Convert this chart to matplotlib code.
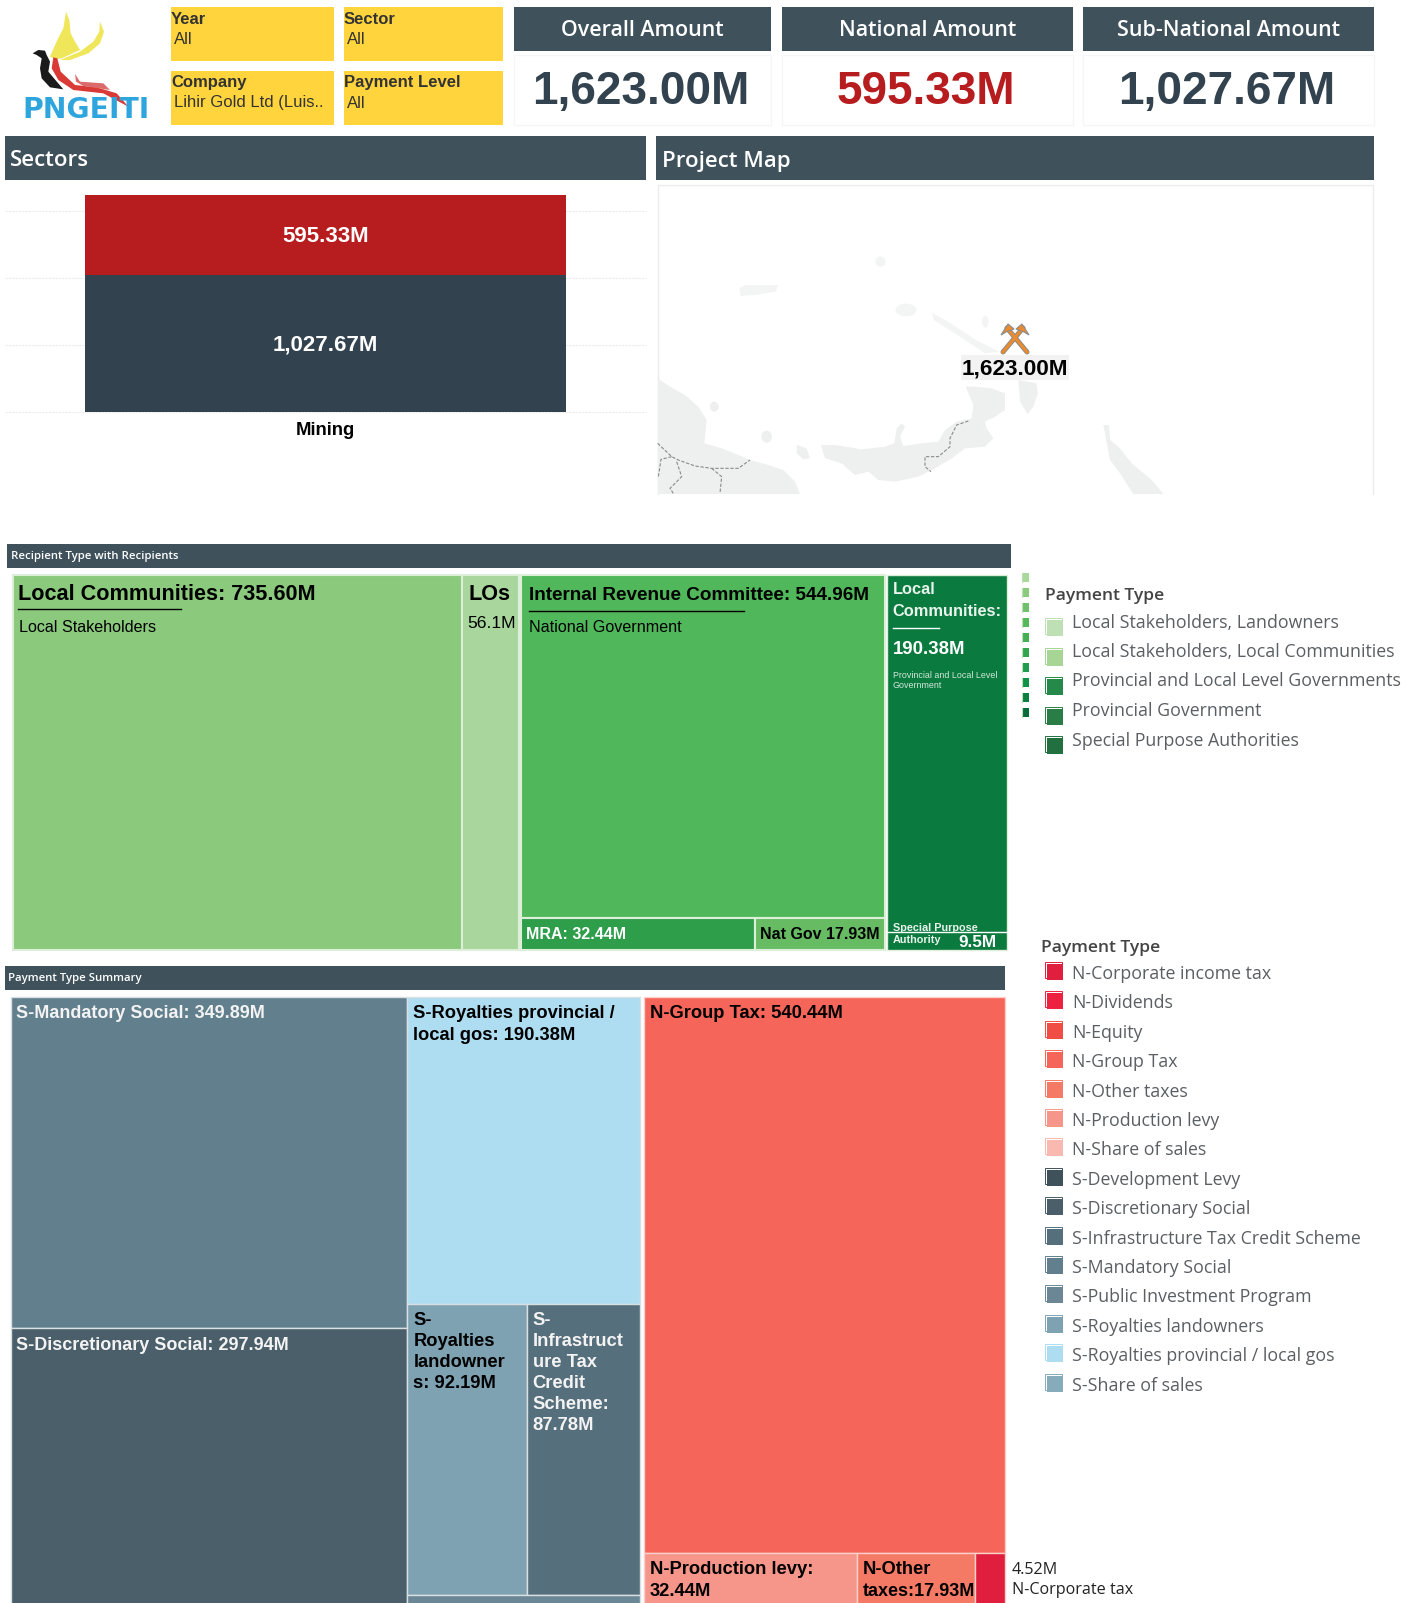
#!/usr/bin/env python3
# -*- coding: utf-8 -*-

import matplotlib
matplotlib.use("Agg")
import matplotlib.pyplot as plt
from matplotlib.patches import Rectangle, Polygon, Ellipse

W, H = 1413, 1603

# ---------- DATA ----------
FILTERS = [("Year", "All"), ("Sector", "All"),
           ("Company", "Lihir Gold Ltd (Luis.."), ("Payment Level", "All")]
KPI_NAMES = ["Overall Amount", "National Amount", "Sub-National Amount"]
KPI_VALUES = [1623.00, 595.33, 1027.67]

SECTOR_CATS = ["Mining"]
SECTOR_NATIONAL = [595.33]
SECTOR_SUBNATIONAL = [1027.67]

# recipients treemap: the LOs cell is sized 92.19 though it is labelled 56.1M
REC_LOCAL = [735.60, 92.19]
REC_NATIONAL_TOP = 544.96
REC_NATIONAL_ROW = [32.44, 17.93]
REC_PROVINCIAL = [190.38, 9.50]

# payment treemap
PAY_SOCIAL = [349.89, 297.94]
PAY_ROYALTY_TOP = 190.38
PAY_ROYALTY_ROW = [92.19, 87.78]
PAY_PUBLIC_INV = 9.49
PAY_GROUP_TAX = 540.44
PAY_NAT_ROW = [32.44, 17.93, 4.52]

LEGEND1_LABELS = ["Local Stakeholders, Landowners", "Local Stakeholders, Local Communities",
                  "Provincial and Local Level Governments", "Provincial Government",
                  "Special Purpose Authorities"]
LEGEND1_COLORS = ["#BFE0B5", "#A6D596", "#25894A", "#2A7D46", "#22703F"]
RAMP_COLORS = ["#A9D79C", "#8BCB7E", "#6FC06B", "#55B85B", "#45AF54",
               "#32A64F", "#1F9C4D", "#0F9148", "#0A7F41", "#076C39"]
LEGEND2_LABELS = ["N-Corporate income tax", "N-Dividends", "N-Equity", "N-Group Tax",
                  "N-Other taxes", "N-Production levy", "N-Share of sales",
                  "S-Development Levy", "S-Discretionary Social",
                  "S-Infrastructure Tax Credit Scheme", "S-Mandatory Social",
                  "S-Public Investment Program", "S-Royalties landowners",
                  "S-Royalties provincial / local gos", "S-Share of sales"]
LEGEND2_COLORS = ["#DF1F3D", "#EC2240", "#F04E45", "#F5655A", "#F47A65", "#F6968A", "#F9B8B0",
                  "#3F525C", "#4A5F6A", "#566F7C", "#617F8D", "#6B8795", "#7FA2B3",
                  "#AEDDF2", "#86ABBB"]

# ---------- THEME ----------
HEADER = "#3F525C"
YELLOW = "#FFD43D"
RED = "#B71C1F"
NAVY = "#32424E"
LAND = "#EEEFEF"
SANS = "Liberation Sans"
BOOK = "Open Sans"
LEGEND_TEXT = "#5A5F63"


def box(ax, x0, y0, x1, y1, color, edge="none", lw=0, z=2):
    ax.add_patch(Rectangle((x0, y0), x1 - x0, y1 - y0, facecolor=color,
                           edgecolor=edge, linewidth=lw, zorder=z))


def put(ax, x, y, s, size, color="black", weight="normal", family=SANS, ha="left", z=6):
    ax.text(x, y, s, fontsize=size, color=color, fontweight=weight, family=family,
            ha=ha, va="center", zorder=z)


def money(v):
    return f"{v:,.2f}M"


def draw_logo(ax):
    def zp(pts):
        return [(x / 3.0, y / 3.0) for x, y in pts]
    yellow = [[(198, 35), (208, 60), (212, 100), (225, 125), (240, 150), (185, 175), (165, 178), (150, 170), (172, 120), (190, 85)],
              [(300, 65), (312, 95), (300, 130), (265, 160), (210, 180), (180, 180), (240, 155), (280, 125), (298, 95)]]
    for p in yellow:
        ax.add_patch(Polygon(zp(p), facecolor="#EFE65A", edgecolor="none", zorder=3))
    black = [(98, 160), (115, 150), (135, 152), (140, 165), (150, 185), (145, 215), (190, 268), (150, 262), (125, 235), (120, 205), (125, 175), (110, 165)]
    ax.add_patch(Polygon(zp(black), facecolor="#1A1A1A", edgecolor="none", zorder=3))
    red = [(160, 172), (172, 175), (182, 215), (225, 255), (290, 262), (350, 280), (385, 320), (310, 280), (220, 270), (175, 240), (155, 205)]
    ax.add_patch(Polygon(zp(red), facecolor="#D93A35", edgecolor="none", zorder=4))
    tail = [(225, 222), (240, 245), (310, 250), (330, 270), (250, 258), (228, 245)]
    ax.add_patch(Polygon(zp(tail), facecolor="#DB6A6A", edgecolor="none", zorder=4))
    put(ax, 22, 110, "PNGEITI", 20.3, color="#2FA5DE", weight="bold", family="DejaVu Sans")


def draw_map(ax):
    def low(pts):
        return [(655 + x / 3.0, 360 + y / 3.0) for x, y in pts]

    def up(pts):
        return [(650 + x / 2.148, 180 + y / 3.0) for x, y in pts]

    box(ax, 657.5, 185, 1373, 494, "white", z=1)
    ax.plot([657.5, 657.5, 1373, 1373], [494, 185, 185, 494], color="#EBEBEB", lw=1, zorder=1.2)
    land = [
        [(8, 55), (45, 80), (90, 105), (130, 140), (155, 180), (148, 250), (200, 265), (250, 285), (285, 300), (340, 315),
         (385, 330), (420, 365), (435, 402), (8, 402)],
        [(498, 255), (540, 255), (620, 268), (690, 260), (718, 250), (725, 205), (740, 190), (750, 200), (735, 230), (745, 258),
         (800, 250), (850, 245), (870, 210), (905, 185), (950, 175), (955, 135), (932, 80), (960, 80), (1010, 85), (1050, 100),
         (1050, 150), (1020, 170), (990, 185), (995, 205), (1015, 235), (990, 260), (930, 265), (890, 295), (840, 325), (790, 350),
         (720, 365), (670, 360), (640, 335), (600, 345), (560, 310), (510, 295)],
        [(1090, 60), (1145, 70), (1148, 100), (1135, 140), (1118, 162), (1095, 125)],
        [(1345, 195), (1362, 195), (1365, 240), (1395, 265), (1430, 310), (1490, 360), (1525, 402), (1435, 402), (1395, 340), (1365, 300)],
        [(425, 255), (455, 265), (465, 295), (445, 298), (425, 280)],
    ]
    for p in land:
        ax.add_patch(Polygon(low(p), facecolor=LAND, edgecolor="none", zorder=1.5))
    for cx, cy, w, h in [(178, 140, 26, 30), (335, 230, 32, 36)]:
        (px, py), = low([(cx, cy)])
        ax.add_patch(Ellipse((px, py), w / 3.0, h / 3.0, facecolor=LAND, edgecolor="none", zorder=1.5))
    ax.add_patch(Polygon(up([(192, 325), (205, 315), (275, 315), (270, 335), (225, 345), (195, 348)]),
                         facecolor="#F3F4F4", edgecolor="none", zorder=1.5))
    ax.add_patch(Polygon(up([(605, 398), (640, 425), (700, 480), (750, 515), (720, 520), (660, 465), (610, 420)]),
                         facecolor="#F3F4F4", edgecolor="none", zorder=1.5))
    for cx, cy, w, h in [(495, 245, 22, 30), (550, 390, 45, 38), (720, 425, 14, 35)]:
        (px, py), = up([(cx, cy)])
        ax.add_patch(Ellipse((px, py), w / 2.148, h / 3.0, facecolor="#F3F4F4", edgecolor="none", zorder=1.5))
    borders = [[(940, 183), (905, 195), (885, 235), (885, 260), (850, 290), (810, 290), (810, 320), (828, 335)],
               [(8, 250), (50, 290), (70, 300), (120, 318), (170, 325), (250, 325), (285, 300)],
               [(50, 290), (18, 298), (10, 350)],
               [(65, 305), (80, 350), (45, 385), (55, 400)],
               [(170, 325), (200, 350), (195, 400)]]
    for b in borders:
        pts = low(b)
        ax.plot([p[0] for p in pts], [p[1] for p in pts], color="#8A8A8A", lw=0.8, ls=(0, (3, 1.5)), zorder=1.7)
    # crossed hammers
    cx, cy = 1015, 339
    for sgn in (-1, 1):
        ax.plot([cx - sgn * 12, cx + sgn * 8], [cy + 13, cy - 11], color="#8C8C8C", lw=3.6, zorder=3, solid_capstyle="round")
        ax.plot([cx - sgn * 12, cx + sgn * 8], [cy + 13, cy - 11], color="#E98B2E", lw=2.2, zorder=3.1)
        ax.add_patch(Polygon([(cx + sgn * 1, cy - 10), (cx + sgn * 7, cy - 15), (cx + sgn * 14, cy - 4), (cx + sgn * 9, cy - 7)],
                             facecolor="#E98B2E", edgecolor="#8C8C8C", linewidth=0.8, zorder=3.2))
    box(ax, 960.5, 355, 1069, 380, "#F2F2F2", z=3)
    put(ax, 1014.5, 368.5, money(KPI_VALUES[0]), 16.2, weight="bold", ha="center")


def draw_sectors(fig):
    px_per_m = (412 - 195) / (SECTOR_NATIONAL[0] + SECTOR_SUBNATIONAL[0])
    top, bot, left, right = 185, 412, 5, 646
    ax = fig.add_axes([left / W, 1 - bot / H, (right - left) / W, (bot - top) / H], zorder=1)
    ax.bar(SECTOR_CATS, SECTOR_SUBNATIONAL, width=0.75, color=NAVY, zorder=3)
    ax.bar(SECTOR_CATS, SECTOR_NATIONAL, bottom=SECTOR_SUBNATIONAL, width=0.75, color=RED, zorder=3)
    ax.set_xlim(-0.5, 0.5)
    ax.set_ylim(0, (bot - top) / px_per_m)
    ax.set_yticks([0, 500, 1000, 1500])
    ax.grid(axis="y", color="#EBEBEB", lw=0.8, ls=(0, (2, 1)), zorder=0)
    for g in ax.get_ygridlines():
        g.set_clip_on(False)
    ax.tick_params(length=0, labelleft=False, pad=7)
    for t in ax.get_xticklabels():
        t.set_fontsize(13.3)
        t.set_fontweight("bold")
        t.set_family(SANS)
    for s in ax.spines.values():
        s.set_visible(False)
    for i, (n, s) in enumerate(zip(SECTOR_NATIONAL, SECTOR_SUBNATIONAL)):
        for v, mid in ((n, s + n / 2), (s, s / 2)):
            ax.annotate(money(v), (i, mid), xytext=(0, -1), textcoords="offset points", color="white",
                        fontsize=16, fontweight="bold", family=SANS, ha="center", va="center", zorder=5)


def draw_recipient_treemap(ax):
    x0, x1, y0, y1 = 13, 1007, 575, 950
    local, nat, prov = sum(REC_LOCAL), REC_NATIONAL_TOP + sum(REC_NATIONAL_ROW), sum(REC_PROVINCIAL)
    total = local + nat + prov
    sx = (x1 - x0) / total
    h = y1 - y0
    ox = x0
    edge = "#DDEFD8"

    # local stakeholders
    xm = ox + local * sx * REC_LOCAL[0] / local - 1.5
    xe = ox + local * sx - 1
    box(ax, ox, y0, xm, y1, "#8BC97D", edge=edge, lw=1.5)
    box(ax, xm, y0, xe, y1, "#A8D69C", edge=edge, lw=1.5)
    put(ax, ox + 5, y0 + 19, f"Local Communities: {REC_LOCAL[0]:.2f}M", 15.6, weight="bold")
    ax.plot([ox + 5, ox + 168], [y0 + 34, y0 + 34], color="black", lw=1, zorder=6)
    put(ax, ox + 6, y0 + 52, "Local Stakeholders", 11.65)
    put(ax, xm + 6, y0 + 20, "LOs", 15.6, weight="bold")
    put(ax, xm + 5, y0 + 49, "56.1M", 12.6)

    # national government
    ox = xe + 2
    xe = ox + nat * sx - 1
    row_h = h * sum(REC_NATIONAL_ROW) / nat
    ym = y1 - row_h
    box(ax, ox, y0, xe, ym, "#50B85A", edge=edge, lw=1.5)
    xm = ox + (xe - ox) * REC_NATIONAL_ROW[0] / sum(REC_NATIONAL_ROW)
    box(ax, ox, ym, xm, y1, "#2E9E4B", edge=edge, lw=1.5)
    box(ax, xm, ym, xe, y1, "#66BB63", edge=edge, lw=1.5)
    put(ax, ox + 8, y0 + 20, f"Internal Revenue Committee: {REC_NATIONAL_TOP:.2f}M", 13.6, weight="bold")
    ax.plot([ox + 8, ox + 223], [y0 + 36, y0 + 36], color="black", lw=1, zorder=6)
    put(ax, ox + 8, y0 + 53, "National Government", 11.65)
    put(ax, ox + 5, ym + 16, f"MRA: {REC_NATIONAL_ROW[0]:.2f}M", 11.5, color="white", weight="bold")
    put(ax, xm + 5, ym + 16, f"Nat Gov {REC_NATIONAL_ROW[1]:.2f}M", 11.5, weight="bold")

    # provincial
    ox = xe + 2
    xe = x1
    ym = y1 - h * REC_PROVINCIAL[1] / prov
    box(ax, ox, y0, xe, y1, "#0A7A3F", edge=edge, lw=1)
    ax.plot([ox, xe], [ym, ym], color="white", lw=1, zorder=5)
    put(ax, ox + 6, y0 + 15, "Local", 11.8, color="#E8F3EC", weight="bold")
    put(ax, ox + 6, y0 + 37, "Communities:", 11.8, color="#E8F3EC", weight="bold")
    ax.plot([ox + 6, ox + 52], [y0 + 53, y0 + 53], color="white", lw=1, zorder=6)
    put(ax, ox + 6, y0 + 75, f"{REC_PROVINCIAL[0]:.2f}M", 13.4, color="white", weight="bold")
    put(ax, ox + 6, y0 + 101, "Provincial and Local Level", 6.4, color="#D5E8DB")
    put(ax, ox + 6, y0 + 110, "Government", 6.4, color="#D5E8DB")
    put(ax, ox + 6, ym - 4, "Special Purpose", 7.8, color="#E8F3EC", weight="bold")
    put(ax, ox + 6, ym + 8, "Authority", 7.8, color="#E8F3EC", weight="bold")
    put(ax, ox + 72, ym + 10, f"{REC_PROVINCIAL[1]:.1f}M", 12.3, color="white", weight="bold")


def draw_payment_treemap(ax):
    x0, x1, y0, y1 = 10.5, 1005, 997, 1610.5
    royalty = PAY_ROYALTY_TOP + sum(PAY_ROYALTY_ROW) + PAY_PUBLIC_INV
    social = sum(PAY_SOCIAL)
    sub = social + royalty
    nat = PAY_GROUP_TAX + sum(PAY_NAT_ROW)
    sx = (x1 - x0) / (sub + nat)
    h = y1 - y0
    edge = "#D9E0E4"

    # social column
    xe = x0 + social * sx
    ym = y0 + h * PAY_SOCIAL[0] / social
    box(ax, x0, y0, xe, ym, "#617F8D", edge=edge, lw=1)
    box(ax, x0, ym, xe, y1, "#4A5F6A", edge=edge, lw=1)
    put(ax, x0 + 5, y0 + 17, f"S-Mandatory Social: {PAY_SOCIAL[0]:.2f}M", 13, color="#F3F3F3", weight="bold")
    put(ax, x0 + 5, ym + 17, f"S-Discretionary Social: {PAY_SOCIAL[1]:.2f}M", 13, color="#F3F3F3", weight="bold")

    # royalties column
    ox = xe
    xe = ox + royalty * sx
    ym = y0 + h * PAY_ROYALTY_TOP / royalty
    ye = ym + h * sum(PAY_ROYALTY_ROW) / royalty
    xm = ox + (xe - ox) * PAY_ROYALTY_ROW[0] / sum(PAY_ROYALTY_ROW)
    box(ax, ox, y0, xe, ym, "#AEDDF2", edge=edge, lw=1)
    box(ax, ox, ym, xm, ye, "#7FA2B3", edge=edge, lw=1)
    box(ax, xm, ym, xe, ye, "#566F7C", edge=edge, lw=1)
    box(ax, ox, ye, xe, y1, "#6B8795", edge=edge, lw=1)
    put(ax, ox + 6, y0 + 17, "S-Royalties provincial /", 13.2, weight="bold")
    put(ax, ox + 6, y0 + 39, f"local gos: {PAY_ROYALTY_TOP:.2f}M", 13.2, weight="bold")
    for i, s in enumerate(["S-", "Royalties", "landowner", f"s: {PAY_ROYALTY_ROW[0]:.2f}M"]):
        put(ax, ox + 6, ym + 16 + i * 21, s, 13.2, weight="bold")
    for i, s in enumerate(["S-", "Infrastruct", "ure Tax", "Credit", "Scheme:", f"{PAY_ROYALTY_ROW[1]:.2f}M"]):
        put(ax, xm + 6, ym + 16 + i * 21, s, 13.2, color="#F3F3F3", weight="bold")

    # national column
    ox = xe + 3.5
    ym = y0 + h * PAY_GROUP_TAX / nat - 1
    box(ax, ox, y0, x1, ym, "#F5655A", edge="#FBD0CB", lw=1)
    put(ax, ox + 6, y0 + 17, f"N-Group Tax: {PAY_GROUP_TAX:.2f}M", 13.2, weight="bold")
    cols = ["#F6968A", "#F47A65", "#DF1F3D"]
    cx = ox
    row = sum(PAY_NAT_ROW)
    for v, c in zip(PAY_NAT_ROW, cols):
        nx = cx + (x1 - ox) * v / row
        box(ax, cx, ym, nx, y1, c, edge="#FBD0CB", lw=1)
        if v == PAY_NAT_ROW[0]:
            put(ax, cx + 6, ym + 17, "N-Production levy:", 13.2, weight="bold")
            put(ax, cx + 6, ym + 39, f"{v:.2f}M", 13.2, weight="bold")
        elif v == PAY_NAT_ROW[1]:
            put(ax, cx + 6, ym + 17, "N-Other", 13.2, weight="bold")
            put(ax, cx + 6, ym + 39, f"taxes:{v:.2f}M", 13, weight="bold")
        cx = nx
    put(ax, x1 + 7, ym + 17, f"{PAY_NAT_ROW[2]:.2f}M", 11.6, family=BOOK, color="#222222")
    put(ax, x1 + 7, ym + 37, "N-Corporate tax", 11.6, family=BOOK, color="#222222")


def swatch(ax, x, y, color, size=18):
    # the tableau legend keeps a thin lighter offset frame behind the square
    box(ax, x, y, x + size - 1, y + size - 2, "#FFFFFF", edge=color, lw=0.7, z=2)
    box(ax, x + 1.5, y + 2, x + size, y + size, color, z=3)


def main():
    fig = plt.figure(figsize=(W / 100, H / 100), dpi=100, facecolor="white")
    draw_sectors(fig)
    ax = fig.add_axes([0, 0, 1, 1], zorder=2)
    ax.set_xlim(0, W)
    ax.set_ylim(H, 0)
    ax.axis("off")

    draw_logo(ax)

    # filters
    spots = [(171, 334, 7, 61), (344, 503, 7, 61), (171, 334, 71, 125), (344, 503, 71, 125)]
    for (name, val), (a, b, c, d) in zip(FILTERS, spots):
        box(ax, a, c, b, d, YELLOW)
        put(ax, a, c + 12, name, 12, color="#333333", weight="bold")
        put(ax, a + 3, c + 32, val, 12, color="#333333")

    # KPI cards
    cards = [(514, 771), (782, 1073), (1083, 1374)]
    colors = [NAVY, RED, NAVY]
    for name, val, (a, b), col in zip(KPI_NAMES, KPI_VALUES, cards, colors):
        box(ax, a, 55, b, 125, "white", edge="#F6F6F6", lw=1, z=1)
        box(ax, a, 7, b, 51, HEADER)
        put(ax, (a + b) / 2, 31, name, 15.4, color="white", family=BOOK, weight="semibold", ha="center")
        put(ax, (a + b) / 2 - 2, 92, money(val), 33, color=col, weight="bold", ha="center")

    # panel headers
    box(ax, 5, 136, 646, 180, HEADER)
    put(ax, 10, 161, "Sectors", 16, color="white", family=BOOK, weight="semibold")
    box(ax, 656, 136, 1374, 180, HEADER)
    put(ax, 662, 161, "Project Map", 16, color="white", family=BOOK, weight="semibold")
    draw_map(ax)

    box(ax, 7, 544, 1011, 568, HEADER)
    put(ax, 11, 557, "Recipient Type with Recipients", 8.2, color="white", weight="semibold", family=BOOK)
    draw_recipient_treemap(ax)

    box(ax, 5, 966, 1005, 990, HEADER)
    put(ax, 8, 979, "Payment Type Summary", 8.2, color="white", weight="semibold", family=BOOK)
    draw_payment_treemap(ax)

    # legend 1: colour ramp + list
    for i, c in enumerate(RAMP_COLORS):
        box(ax, 1023, 573 + i * 15, 1029, 581.5 + i * 15, c)
        ax.plot([1021.5, 1021.5], [573 + i * 15, 581.5 + i * 15], color="#BFE0B5", lw=0.8, zorder=3)
    put(ax, 1045, 596, "Payment Type", 12.6, color="#444444", family=BOOK, weight="semibold")
    for i, (lab, c) in enumerate(zip(LEGEND1_LABELS, LEGEND1_COLORS)):
        swatch(ax, 1045, 618 + i * 29.6, c)
        put(ax, 1072, 622.5 + i * 29.5, lab, 12.8, color=LEGEND_TEXT, family=BOOK)

    # legend 2
    put(ax, 1041, 947.5, "Payment Type", 12.6, color="#444444", family=BOOK, weight="semibold")
    for i, (lab, c) in enumerate(zip(LEGEND2_LABELS, LEGEND2_COLORS)):
        swatch(ax, 1045, 962 + i * 29.4, c)
        put(ax, 1072, 974 + i * 29.4, lab, 12.8, color=LEGEND_TEXT, family=BOOK)

    fig.savefig("out.png", dpi=100, facecolor="white")
    plt.close(fig)


if __name__ == "__main__":
    main()
